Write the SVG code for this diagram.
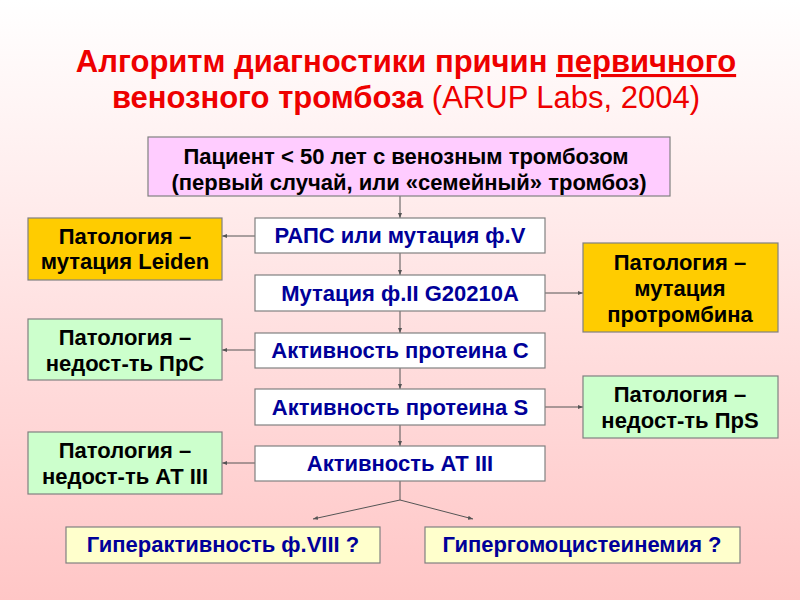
<svg xmlns="http://www.w3.org/2000/svg" width="800" height="600" viewBox="0 0 800 600">
<defs>
<linearGradient id="bg" x1="0" y1="0" x2="0" y2="1">
<stop offset="0" stop-color="#ffffff"/>
<stop offset="1" stop-color="#ffc6c6"/>
</linearGradient>
<marker id="ah" viewBox="0 0 10 10" refX="10" refY="5" markerWidth="5" markerHeight="5" orient="auto" markerUnits="userSpaceOnUse">
<path d="M0,1 L10,5 L0,9 z" fill="#555"/>
</marker>
<style>
.t{font-family:"Liberation Sans",Arial,sans-serif;font-weight:bold;text-anchor:middle}
.title{font-size:31px;fill:#ee0000}
.blk{font-size:22px;fill:#000}
.blu{font-size:22px;fill:#000099}
.box{stroke:#808080;stroke-width:1.2}
.conn line,.conn polyline{stroke:#555;stroke-width:1;fill:none;marker-end:url(#ah)}
</style>
</defs>
<rect width="800" height="600" fill="url(#bg)"/>
<g id="title">
<text class="t title" x="406" y="72">Алгоритм диагностики причин <tspan text-decoration="underline">первичного</tspan></text>
<text class="t title" x="406" y="108">венозного тромбоза <tspan font-weight="normal">(ARUP Labs, 2004)</tspan></text>
</g>
<g class="conn">
<line x1="400" y1="196" x2="400" y2="218"/>
<line x1="400" y1="253" x2="400" y2="275"/>
<line x1="400" y1="311" x2="400" y2="333"/>
<line x1="400" y1="368" x2="400" y2="389"/>
<line x1="400" y1="425" x2="400" y2="446"/>
<line x1="255" y1="236" x2="222" y2="236"/>
<line x1="545" y1="293" x2="583" y2="293"/>
<line x1="255" y1="350" x2="222" y2="350"/>
<line x1="545" y1="407" x2="583" y2="407"/>
<line x1="255" y1="463" x2="222" y2="463"/>
<polyline points="400,481 400,500 313,519"/>
<polyline points="400,500 473,519"/>
</g>
<g id="patient">
<rect class="box" x="148" y="137" width="522" height="59" fill="#ffccff"/>
<text class="t blk" x="406" y="164">Пациент &lt; 50 лет с венозным тромбозом</text>
<text class="t blk" x="409" y="190">(первый случай, или «семейный» тромбоз)</text>
</g>
<g id="raps">
<rect class="box" x="255" y="218" width="290" height="35" fill="#ffffff"/>
<text class="t blu" x="400" y="243">РАПС или мутация ф.V</text>
</g>
<g id="mut2">
<rect class="box" x="255" y="275" width="290" height="36" fill="#ffffff"/>
<text class="t blu" x="400" y="301">Мутация ф.II G20210A</text>
</g>
<g id="protc">
<rect class="box" x="255" y="333" width="290" height="35" fill="#ffffff"/>
<text class="t blu" x="400" y="358">Активность протеина С</text>
</g>
<g id="prots">
<rect class="box" x="255" y="389" width="290" height="36" fill="#ffffff"/>
<text class="t blu" x="400" y="415">Активность протеина S</text>
</g>
<g id="at3">
<rect class="box" x="255" y="446" width="290" height="35" fill="#ffffff"/>
<text class="t blu" x="400" y="471">Активность АТ III</text>
</g>
<g id="leiden">
<rect class="box" x="28" y="218" width="194" height="62" fill="#ffcc00"/>
<text class="t blk" x="125" y="244">Патология –</text>
<text class="t blk" x="125" y="269">мутация Leiden</text>
</g>
<g id="prothrombin">
<rect class="box" x="583" y="243" width="195" height="89" fill="#ffcc00"/>
<text class="t blk" x="680" y="270">Патология –</text>
<text class="t blk" x="680" y="296">мутация</text>
<text class="t blk" x="680" y="322">протромбина</text>
</g>
<g id="defc">
<rect class="box" x="28" y="319" width="194" height="61" fill="#ccffcc"/>
<text class="t blk" x="125" y="345">Патология –</text>
<text class="t blk" x="125" y="371">недост-ть ПрС</text>
</g>
<g id="defs2">
<rect class="box" x="583" y="376" width="195" height="62" fill="#ccffcc"/>
<text class="t blk" x="680" y="402">Патология –</text>
<text class="t blk" x="680" y="428">недост-ть ПрS</text>
</g>
<g id="defat">
<rect class="box" x="28" y="432" width="194" height="62" fill="#ccffcc"/>
<text class="t blk" x="125" y="458">Патология –</text>
<text class="t blk" x="125" y="484">недост-ть АТ III</text>
</g>
<g id="f8">
<rect class="box" x="66" y="527" width="314" height="36" fill="#ffffcc"/>
<text class="t blu" x="223" y="552">Гиперактивность ф.VIII ?</text>
</g>
<g id="hcy">
<rect class="box" x="425" y="527" width="315" height="36" fill="#ffffcc"/>
<text class="t blu" x="582" y="552">Гипергомоцистеинемия ?</text>
</g>
</svg>
